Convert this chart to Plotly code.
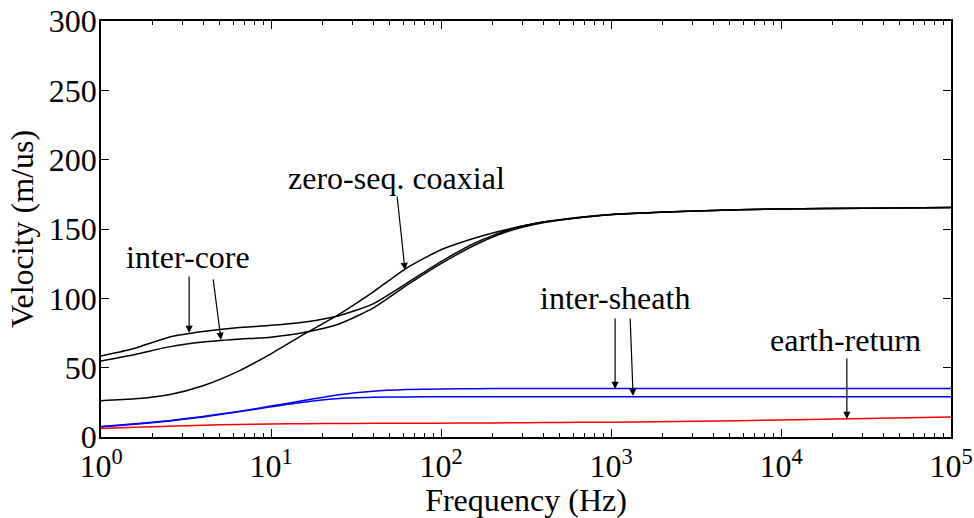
import plotly.graph_objects as go
import math

# Frequency grid (Hz)
FREQ = [1, 1.585, 2.512, 3.981, 6.310, 10, 15.85, 25.12, 39.81, 63.10,
        100, 158.5, 251.2, 398.1, 631.0, 1000, 3162, 10000, 31623, 100000]

# Velocities (m/us)
inter_core_1 = [58.4, 64, 72, 76, 78.8, 80.5, 83, 87.5, 96, 111,
                126.5, 140, 149.5, 155, 158.3, 160.5, 163, 164.5, 165, 165.5]
inter_core_2 = [54.8, 59.5, 65, 68.5, 70.5, 72, 75.5, 81.5, 93, 109.5,
                125, 138.5, 148.5, 154.5, 158, 160.3, 163, 164.5, 165, 165.5]
zero_seq_coax = [26.2, 27.5, 30.5, 37, 47, 60, 74.5, 88.5, 104.5, 122,
                 135, 143.5, 150, 155, 158, 160.5, 163, 164.5, 165, 165.5]
inter_sheath_1 = [7.5, 9.5, 11.8, 14.8, 18.3, 22.3, 26.5, 30.5, 33, 34.2,
                  34.7, 34.85, 35, 35, 35, 35, 35, 35, 35, 35]
inter_sheath_2 = [7.2, 9.2, 11.5, 14.5, 18, 21.8, 25.3, 27.8, 28.6, 28.9,
                  29, 29, 29, 29, 29, 29, 29, 29, 29, 29]
earth_return = [6.2, 7.0, 7.8, 8.5, 9.0, 9.4, 9.6, 9.75, 9.85, 9.95,
                10.0, 10.1, 10.25, 10.4, 10.55, 10.7, 11.3, 12.2, 13.3, 14.5]

X_TICKS = [1, 10, 100, 1000, 10000, 100000]
X_TICKTEXT = ["10<sup>0</sup>", "10<sup>1</sup>", "10<sup>2</sup>",
              "10<sup>3</sup>", "10<sup>4</sup>", "10<sup>5</sup>"]
Y_TICKS = [0, 50, 100, 150, 200, 250, 300]
MINOR_X = [m * 10 ** e for e in range(0, 5) for m in range(2, 10)]

FONT = "Liberation Serif"
FS = 32

series = [
    (inter_core_1, "black"),
    (inter_core_2, "black"),
    (zero_seq_coax, "black"),
    (inter_sheath_1, "#0000FF"),
    (inter_sheath_2, "#0000FF"),
    (earth_return, "#FF0000"),
]

fig = go.Figure()
for vals, col in series:
    fig.add_trace(go.Scatter(x=FREQ, y=vals, mode="lines",
                             line=dict(color=col, width=1.5, shape="spline", smoothing=0.6),
                             showlegend=False, hoverinfo="skip"))

labels = [
    ("inter-core", 3.25, 129.8),
    ("zero-seq. coaxial", 55.0, 186.8),
    ("inter-sheath", 1057, 100.2),
    ("earth-return", 24100, 70.0),
]
arrows = [
    (3.30, 75.0, 0, -58),
    (5.08, 70.0, -8, -62),
    (61.4, 120.4, -8, -75),
    (1057, 34.6, 0, -72),
    (1349, 29.6, -3, -79),
    (24400, 13.0, 0, -62),
]

annotations = []
for txt, fx, fy in labels:
    annotations.append(dict(text=txt, x=math.log10(fx), y=fy, xref="x", yref="y",
                            showarrow=False, font=dict(family=FONT, size=FS, color="black"),
                            xanchor="center", yanchor="middle"))
for fx, fy, ax, ay in arrows:
    annotations.append(dict(text="", x=math.log10(fx), y=fy, xref="x", yref="y",
                            showarrow=True, ax=ax, ay=ay, arrowhead=2, arrowsize=1.2,
                            arrowwidth=1.2, arrowcolor="black"))

fig.update_layout(
    width=974, height=518,
    margin=dict(l=101, r=23, t=21, b=81),
    paper_bgcolor="white", plot_bgcolor="white",
    font=dict(family=FONT, size=FS, color="black"),
    annotations=annotations,
)
fig.update_xaxes(
    type="log", range=[0, 5], automargin=False,
    tickvals=X_TICKS, ticktext=X_TICKTEXT,
    ticks="inside", ticklen=8, tickwidth=1, tickcolor="black",
    minor=dict(tickvals=MINOR_X, ticks="inside", ticklen=4, tickwidth=1, tickcolor="black"),
    showline=True, linecolor="black", linewidth=1.5, mirror="ticks",
    showgrid=False, zeroline=False,
    title=dict(text="Frequency (Hz)", font=dict(family=FONT, size=FS), standoff=0),
    tickfont=dict(family=FONT, size=FS),
)
fig.update_yaxes(
    range=[0, 300], tickvals=Y_TICKS, automargin=False,
    ticks="inside", ticklen=8, tickwidth=1, tickcolor="black",
    ticklabelstandoff=-4,
    showline=True, linecolor="black", linewidth=1.5, mirror="ticks",
    showgrid=False, zeroline=False,
    title=dict(text="Velocity (m/us)", font=dict(family=FONT, size=FS), standoff=6),
    tickfont=dict(family=FONT, size=FS),
)

fig.write_html("out.html")
